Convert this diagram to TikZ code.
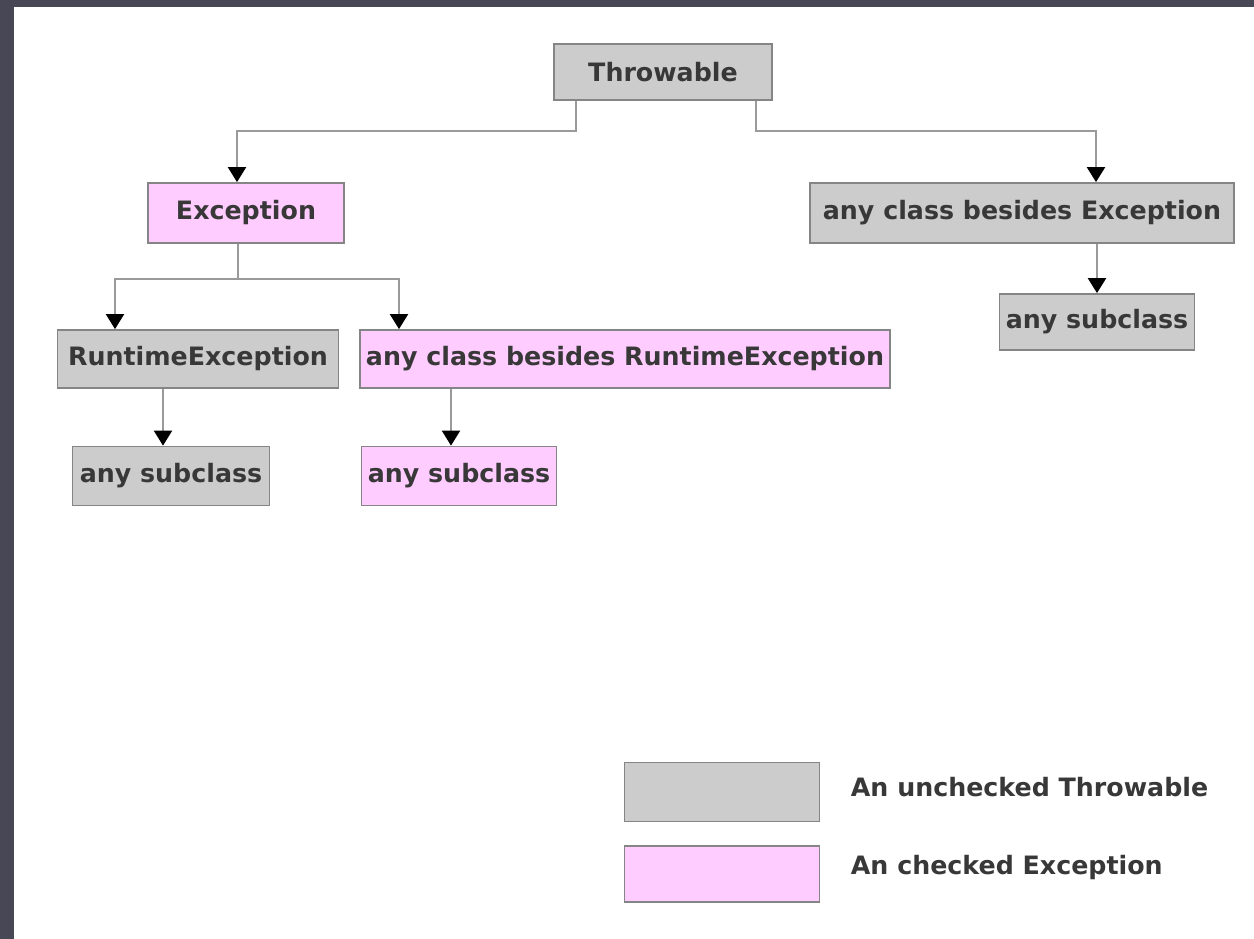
\documentclass[tikz,border=0pt]{standalone}
\usepackage{fontspec}
\setmainfont{DejaVu Sans}
\usetikzlibrary{arrows.meta,calc}
\definecolor{boxgray}{HTML}{CCCCCC}
\definecolor{boxpink}{HTML}{FFCCFF}
\definecolor{framegray}{HTML}{484755}
\definecolor{edgegray}{HTML}{858585}
\definecolor{linegray}{HTML}{9A9A9A}
\definecolor{textgray}{HTML}{383838}
\begin{document}
\begin{tikzpicture}[x=0.02cm,y=-0.02cm,
        cls/.style={draw=edgegray,line width=1pt,inner sep=0pt,
            text=textgray,font=\fontsize{14.4}{16}\selectfont\bfseries},
        unchecked/.style={cls,fill=boxgray},
        checked/.style={cls,fill=boxpink},
        conn/.style={draw=linegray,line width=1.2pt,
            -{Triangle[length=0.3cm,width=0.36cm,fill=black,color=black]}}]
    \fill[framegray] (0,0) rectangle (1254,939);
    \fill[white] (14,7) rectangle (1254,939);
    \useasboundingbox (0,0) rectangle (1254,939);

    \node[unchecked,minimum width=4.36cm,minimum height=1.12cm] (thr) at (663,72) {Throwable};
    \node[checked,minimum width=3.92cm,minimum height=1.2cm] (exc) at (246,213) {Exception};
    \node[unchecked,minimum width=8.48cm,minimum height=1.2cm] (besexc) at (1022,213) {any class besides Exception};
    \node[unchecked,minimum width=3.9cm,minimum height=1.12cm] (sub3) at (1097,322) {any subclass};
    \node[unchecked,minimum width=5.62cm,minimum height=1.16cm] (rte) at (198,359) {RuntimeException};
    \node[checked,minimum width=10.6cm,minimum height=1.16cm] (besrte) at (625,359) {any class besides RuntimeException};
    \node[unchecked,minimum width=3.94cm,minimum height=1.18cm] (sub1) at (171,476) {any subclass};
    \node[checked,minimum width=3.9cm,minimum height=1.18cm] (sub2) at (459,476) {any subclass};

    \draw[conn] ($(thr.south)+(-87,0)$) -- ++(0,30) -| ($(exc.north)+(-9,0)$);
    \draw[conn] ($(thr.south)+(93,0)$) -- ++(0,30) -| ($(besexc.north)+(74,0)$);
    \draw[conn] (besexc.south -| sub3.north) -- (sub3.north);
    \draw[conn] ($(exc.south)+(-8,0)$) -- ++(0,35) -| ($(rte.north)+(-83,0)$);
    \draw[conn] ($(exc.south)+(-8,35)$) -| ($(besrte.north)+(-226,0)$);
    \draw[conn] ($(rte.south)+(-35,0)$) -- ($(sub1.north)+(-8,0)$);
    \draw[conn] ($(besrte.south)+(-174,0)$) -- ($(sub2.north)+(-8,0)$);

    \node[unchecked,minimum width=3.9cm,minimum height=1.18cm] (keyu) at (722,792) {};
    \node[checked,minimum width=3.9cm,minimum height=1.12cm] (keyc) at (722,874) {};
    \node[cls,draw=none,anchor=west] (keyutext) at (850,787) {An unchecked Throwable};
    \node[cls,draw=none,anchor=west] (keyctext) at (850,868) {An checked Exception};
\end{tikzpicture}
\end{document}
